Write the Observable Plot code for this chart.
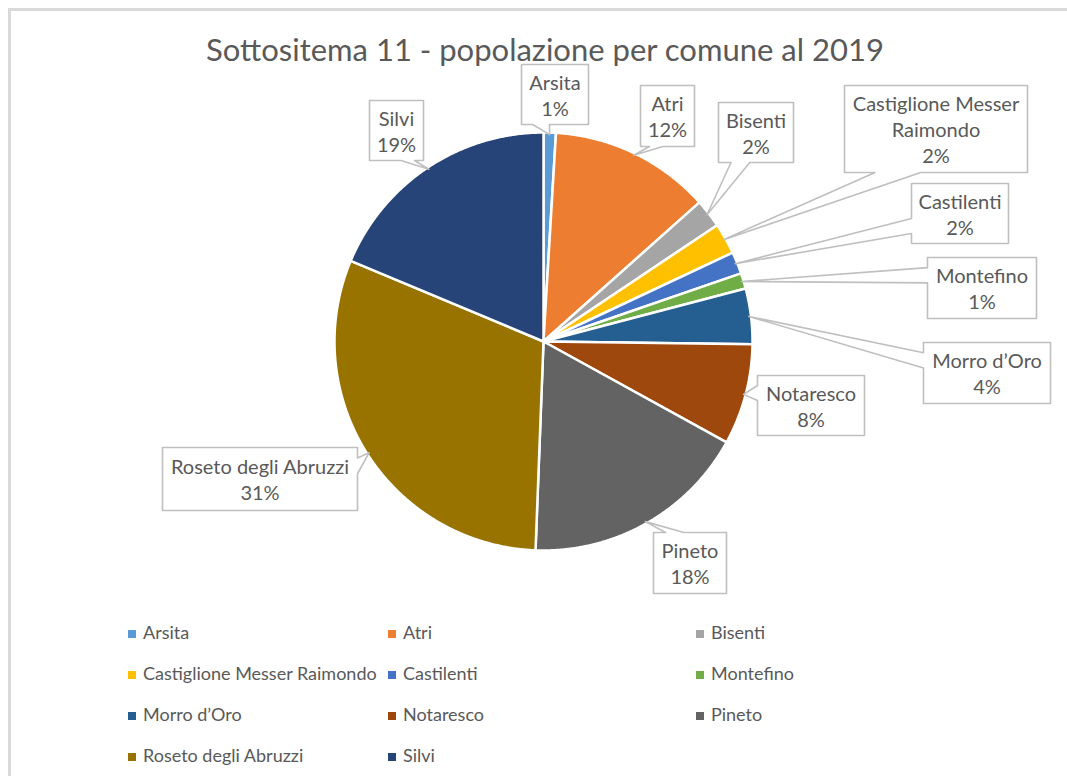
<!DOCTYPE html>
<html><head><meta charset="utf-8">
<script src="https://cdn.jsdelivr.net/npm/d3@7"></script>
<script src="https://cdn.jsdelivr.net/npm/@observablehq/plot@0.6"></script>
<style>
body{margin:0;background:#fff;font-family:Lato,"Open Sans",sans-serif;}
#page{position:relative;width:1067px;height:776px;overflow:hidden;background:#fff;}
#frameTop{position:absolute;left:8px;top:8px;right:0;height:3px;background:#d9d9d9;}
#frameLeft{position:absolute;left:8px;top:8px;bottom:0;width:3px;background:#d9d9d9;}
#title{position:absolute;left:0;width:1090px;top:29px;text-align:center;font-size:31px;color:#595959;line-height:40px;}
#chart{position:absolute;left:0;top:60px;}
.lg{position:absolute;font-size:18px;color:#595959;line-height:22px;white-space:nowrap;}
.lg i{display:inline-block;width:8px;height:8px;margin-right:7px;vertical-align:1px;}
</style></head>
<body><div id="page">
<div id="frameTop"></div><div id="frameLeft"></div>
<div id="title">Sottositema 11 - popolazione per comune al 2019</div>
<div id="chart"></div>
<div id="legend"></div>
</div>
<script>
// ---- data ----
const comuni = ["Arsita","Atri","Bisenti","Castiglione Messer Raimondo","Castilenti","Montefino","Morro d’Oro","Notaresco","Pineto","Roseto degli Abruzzi","Silvi"];
const popolazione = [800, 10460, 1850, 2020, 1430, 1010, 3610, 6550, 14780, 25790, 15700];
const etichette = ["Arsita","Atri","Bisenti","Castiglione Messer\nRaimondo","Castilenti","Montefino","Morro d’Oro","Notaresco","Pineto","Roseto degli Abruzzi","Silvi"];
const colori = ["#5B9BD5","#ED7D31","#A5A5A5","#FFC000","#4472C4","#70AD47","#255E91","#9E480E","#636363","#997300","#264478"];

// ---- layout (page pixels) ----
const W = 1067, TOP = 60, H = 550;
const CX = 543, CY = 341, R = 209;
const boxes = [ // [x0, y0, x1, y1] callout boxes
  [521, 64, 588, 124],
  [640, 85, 694, 146],
  [718, 102, 793, 162],
  [844, 85, 1027, 172],
  [911, 183, 1008, 243],
  [927, 257, 1036, 318],
  [923, 342, 1050, 403],
  [757, 375, 864, 435],
  [653, 532, 726, 593],
  [162, 447, 357, 510],
  [369, 100, 423, 160]
];
const legendCols = [128, 388, 696], legendTop = 621, legendStep = 41;

// ---- geometry ----
const total = d3.sum(popolazione);
const arcs = d3.pie().sort(null).value(d => d)(popolazione);
const pt = (a, r) => [CX + r * Math.sin(a), CY - r * Math.cos(a)];

const slicePts = [];
arcs.forEach((a, i) => {
  const push = ([x, y]) => slicePts.push({name: comuni[i], x, y});
  push([CX, CY]);
  const n = Math.max(2, Math.ceil((a.endAngle - a.startAngle) / 0.005));
  for (let k = 0; k <= n; k++) push(pt(a.startAngle + (a.endAngle - a.startAngle) * k / n, R));
  push([CX, CY]);
});

// wedge-rectangle callouts (Office preset geometry)
const calloutPts = [], labels = [];
arcs.forEach((a, i) => {
  const [x0, y0, x1, y1] = boxes[i];
  const w = x1 - x0, h = y1 - y0, hc = (x0 + x1) / 2, vc = (y0 + y1) / 2;
  const [tx, ty] = pt((a.startAngle + a.endAngle) / 2, R * 0.99);
  const dx = tx - hc, dy = ty - vc;
  const dz = Math.abs(dy) - Math.abs(dx * h / w);
  const xa = x0 + w * (dx > 0 ? 7 : 2) / 12, xb = x0 + w * (dx > 0 ? 10 : 5) / 12;
  const ya = y0 + h * (dy > 0 ? 7 : 2) / 12, yb = y0 + h * (dy > 0 ? 10 : 5) / 12;
  let poly = [[x0, y0]];
  if (dz > 0 && dy < 0) poly.push([xa, y0], [tx, ty], [xb, y0]);
  poly.push([x1, y0]);
  if (dz <= 0 && dx > 0) poly.push([x1, ya], [tx, ty], [x1, yb]);
  poly.push([x1, y1]);
  if (dz > 0 && dy > 0) poly.push([xb, y1], [tx, ty], [xa, y1]);
  poly.push([x0, y1]);
  if (dz <= 0 && dx < 0) poly.push([x0, yb], [tx, ty], [x0, ya]);
  poly.push([x0, y0]);
  poly.forEach(([x, y]) => calloutPts.push({id: i, x, y}));
  labels.push({x: hc, y: vc, text: etichette[i] + "\n" + Math.round(popolazione[i] / total * 100) + "%"});
});

const chart = Plot.plot({
  width: W, height: H,
  margin: 0,
  x: {domain: [0, W], range: [0, W], axis: null},
  y: {domain: [TOP, TOP + H], range: [0, H], axis: null},
  color: {domain: comuni, range: colori},
  style: {fontFamily: "Lato, 'Open Sans', sans-serif", background: "transparent"},
  marks: [
    Plot.line(slicePts, {x: "x", y: "y", z: "name", fill: "name", stroke: "white", strokeWidth: 2.5, strokeLinejoin: "round"}),
    Plot.line(calloutPts, {x: "x", y: "y", z: "id", fill: "white", stroke: "#bfbfbf", strokeWidth: 1.6}),
    Plot.text(labels, {x: "x", y: "y", text: "text", fontSize: 20, lineHeight: 1.3, fill: "#595959"})
  ]
});
document.getElementById("chart").appendChild(chart);

// ---- legend ----
const lg = document.getElementById("legend");
comuni.forEach((c, i) => {
  const d = document.createElement("div");
  d.className = "lg";
  d.style.left = legendCols[i % 3] + "px";
  d.style.top = (legendTop + legendStep * Math.floor(i / 3)) + "px";
  d.innerHTML = `<i style="background:${colori[i]}"></i>${c}`;
  lg.appendChild(d);
});
</script>
</body></html>
